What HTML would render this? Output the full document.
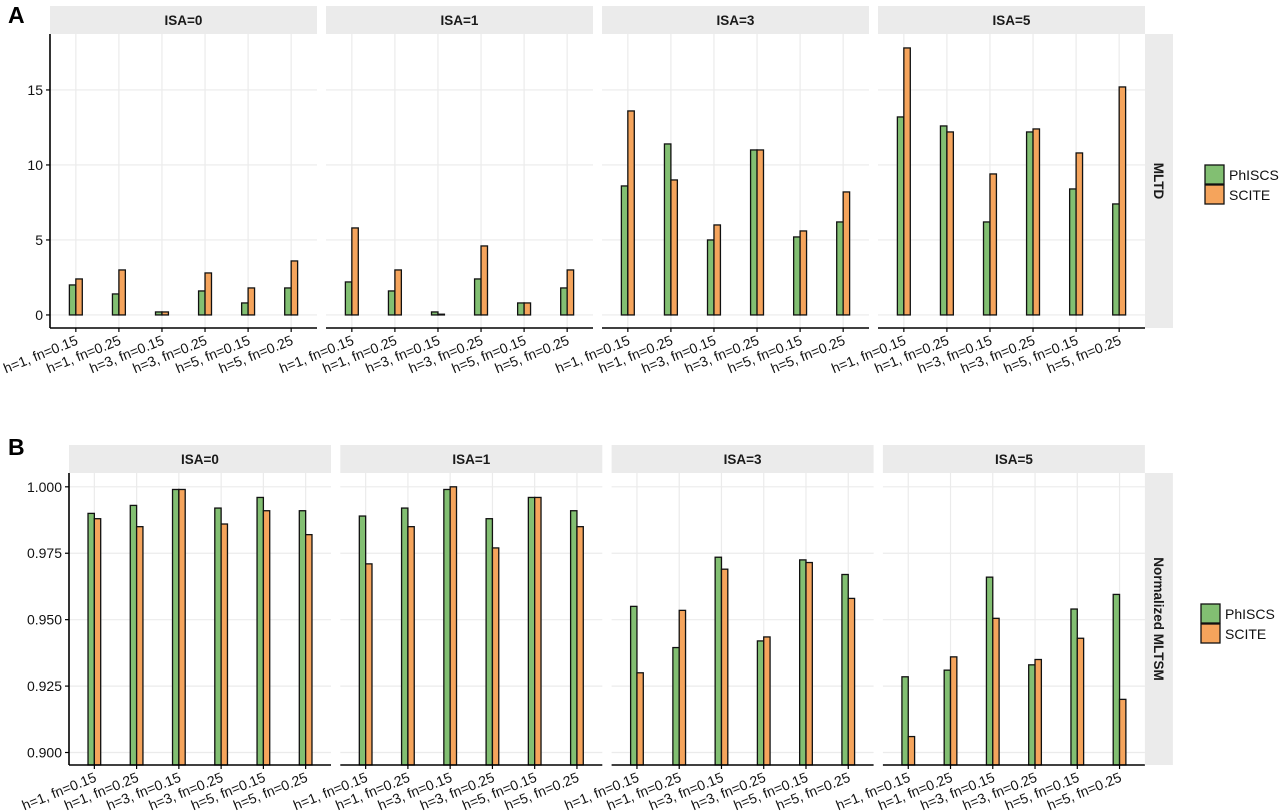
<!DOCTYPE html>
<html><head><meta charset="utf-8"><style>
body{margin:0;background:#fff;}
svg{display:block;font-family:"Liberation Sans",Arial,sans-serif;}
</style></head><body>
<svg id="c" width="1280" height="811"></svg>
<script>
const categories=["h=1, fn=0.15","h=1, fn=0.25","h=3, fn=0.15","h=3, fn=0.25","h=5, fn=0.15","h=5, fn=0.25"];
const facets=["ISA=0","ISA=1","ISA=3","ISA=5"];
const mltdPhISCS=[[2.0,1.4,0.2,1.6,0.8,1.8],[2.2,1.6,0.2,2.4,0.8,1.8],[8.6,11.4,5.0,11.0,5.2,6.2],[13.2,12.6,6.2,12.2,8.4,7.4]];
const mltdSCITE=[[2.4,3.0,0.2,2.8,1.8,3.6],[5.8,3.0,0.05,4.6,0.8,3.0],[13.6,9.0,6.0,11.0,5.6,8.2],[17.8,12.2,9.4,12.4,10.8,15.2]];
const mltsmPhISCS=[[0.990,0.993,0.999,0.992,0.996,0.991],[0.989,0.992,0.999,0.988,0.996,0.991],[0.955,0.9395,0.9735,0.942,0.9725,0.967],[0.9285,0.931,0.966,0.933,0.954,0.9595]];
const mltsmSCITE=[[0.988,0.985,0.999,0.986,0.991,0.982],[0.971,0.985,1.000,0.977,0.996,0.985],[0.930,0.9535,0.969,0.9435,0.9715,0.958],[0.906,0.936,0.9505,0.935,0.943,0.920]];
const ticksA=[0,5,10,15];
const ticksAlabels=["0","5","10","15"];
const ticksB=[0.900,0.925,0.950,0.975,1.000];
const ticksBlabels=["0.900","0.925","0.950","0.975","1.000"];
const seriesNames=["PhISCS","SCITE"];
const colors=["#82bf72","#f5a45c"];

const svg=document.getElementById('c');
const NS="http://www.w3.org/2000/svg";
function mk(tag,attrs,parent){const e=document.createElementNS(NS,tag);for(const k in attrs)e.setAttribute(k,attrs[k]);(parent||svg).appendChild(e);return e;}

function drawBlock(cfg){
  const g=mk('g',{});
  
  
  const yS=v=>cfg.bot-(v-cfg.dmin)/(cfg.dmax-cfg.dmin)*(cfg.bot-cfg.top);
  const L=mk('text',{x:cfg.letterX,y:cfg.letterY,'font-size':23,'font-weight':'bold'},g);L.textContent=cfg.letter;
  
  
  facets.forEach((f,fi)=>{
    const x0=cfg.x0+fi*(cfg.pw+cfg.gap), x1=x0+cfg.pw;
    const pg=mk('g',{},g);
    
    
    const st=mk('rect',{x:x0,y:cfg.stripTop,width:cfg.pw,height:cfg.top-cfg.stripTop,fill:'#ebebeb'},pg);
    
    
    const stt=mk('text',{x:(x0+x1)/2,y:(cfg.stripTop+cfg.top)/2+5,'text-anchor':'middle','font-size':13.5,'font-weight':'bold',fill:'#1a1a1a'},pg);stt.textContent=f;
    
    
    const bw=cfg.pw/(5+1.2);
    const xc=i=>x0+(0.6+i)*bw;
    cfg.ticks.forEach(t=>{const l=mk('line',{x1:x0,x2:x1,y1:yS(t),y2:yS(t),stroke:'#ebebeb','stroke-width':1.2},pg);});
    categories.forEach((c,i)=>{const l=mk('line',{x1:xc(i),x2:xc(i),y1:cfg.top,y2:cfg.bot,stroke:'#ebebeb','stroke-width':1.2},pg);});
    const w=bw*0.15;
    const base=cfg.fromZero?yS(0):cfg.bot;
    [cfg.s1[fi],cfg.s2[fi]].forEach((arr,si)=>{
      arr.forEach((v,i)=>{
        const xl=xc(i)-w+si*w, yv=yS(v);
        const r=mk('rect',{x:xl,y:Math.min(yv,base),width:w,height:Math.max(Math.abs(base-yv),0.5),fill:colors[si],stroke:'#111','stroke-width':1.3},pg);
        
        
      });
    });
    const ax=mk('line',{x1:x0,x2:x1,y1:cfg.bot,y2:cfg.bot,stroke:'#000','stroke-width':1.6},pg);
    
    
    categories.forEach((c,i)=>{
      mk('line',{x1:xc(i),x2:xc(i),y1:cfg.bot,y2:cfg.bot+4,stroke:'#000','stroke-width':1.2},pg);
      const t=mk('text',{x:xc(i)+3,y:cfg.bot+16,'text-anchor':'end','font-size':14,fill:'#111',transform:`rotate(-22 ${xc(i)+3} ${cfg.bot+16})`},pg);
      t.textContent=c;
      
      
    });
    if(fi===0){
      const ya=mk('line',{x1:x0,x2:x0,y1:cfg.top,y2:cfg.bot,stroke:'#000','stroke-width':1.6},pg);
      
      
      cfg.ticks.forEach((t,ti)=>{
        mk('line',{x1:x0-4,x2:x0,y1:yS(t),y2:yS(t),stroke:'#000','stroke-width':1.2},pg);
        const tl=mk('text',{x:x0-7,y:yS(t)+5,'text-anchor':'end','font-size':14,fill:'#111'},pg);
        tl.textContent=cfg.tickLabels[ti];
        
        
      });
    }
  });
  const rx=cfg.x0+4*cfg.pw+3*cfg.gap;
  const rs=mk('rect',{x:rx,y:cfg.top,width:28,height:cfg.bot-cfg.top,fill:'#ebebeb'},g);
  
  
  const cy=(cfg.top+cfg.bot)/2;
  const rt=mk('text',{x:rx+9,y:cy,'text-anchor':'middle','font-size':13.5,'font-weight':'bold',fill:'#1a1a1a',transform:`rotate(90 ${rx+9} ${cy})`},g);
  rt.textContent=cfg.rowLabel;
  
  
  const lg=mk('g',{},g);
  
  
  seriesNames.forEach((s,si)=>{
    const r=mk('rect',{x:cfg.legX,y:cfg.legY+si*20,width:19,height:19,fill:colors[si],stroke:'#111','stroke-width':1.3},lg);
    
    
    const t=mk('text',{x:cfg.legX+24,y:cfg.legY+si*20+15,'font-size':14,fill:'#111'},lg);
    t.textContent=s;
    
    
  });
}
drawBlock({name:'panel-a-mltd',letter:'A',letterX:8,letterY:23,x0:50,pw:267,gap:9,stripTop:6,top:34,bot:328,dmin:-0.87,dmax:18.73,ticks:ticksA,tickLabels:ticksAlabels,s1:mltdPhISCS,s2:mltdSCITE,fromZero:true,rowLabel:'MLTD',legX:1205,legY:165});
drawBlock({name:'panel-b-mltsm',letter:'B',letterX:8,letterY:455,x0:69,pw:262,gap:9.3,stripTop:445,top:473,bot:765,dmin:0.8953,dmax:1.0052,ticks:ticksB,tickLabels:ticksBlabels,s1:mltsmPhISCS,s2:mltsmSCITE,fromZero:false,rowLabel:'Normalized MLTSM',legX:1201,legY:604});
</script>
</body></html>
